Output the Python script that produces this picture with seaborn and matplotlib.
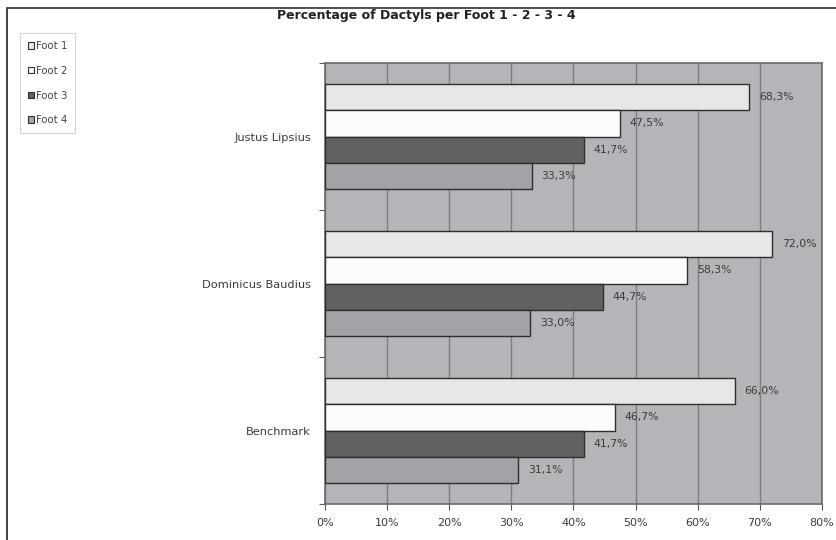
import matplotlib
matplotlib.use("Agg")
import matplotlib.pyplot as plt
from matplotlib.patches import Patch
from matplotlib.ticker import FixedLocator, MultipleLocator, FuncFormatter
import seaborn as sns
import pandas as pd

# Poets compared and the dactyl share of each foot (percent)
poets = ["Justus Lipsius", "Dominicus Baudius", "Benchmark"]
feet = ["Foot 1", "Foot 2", "Foot 3", "Foot 4"]
foot1 = [68.3, 72.0, 66.0]
foot2 = [47.5, 58.3, 46.7]
foot3 = [41.7, 44.7, 41.7]
foot4 = [33.3, 33.0, 31.1]

colors = ["#e7e7e9", "#fbfbfb", "#616161", "#a3a3a7"]

rows = []
for foot, vals in zip(feet, [foot1, foot2, foot3, foot4]):
    for poet, v in zip(poets, vals):
        rows.append({"poet": poet, "foot": foot, "value": v})
df = pd.DataFrame(rows)

sns.set_theme(style="white")
plt.rcParams["font.family"] = ["DejaVu Sans"]
text_color = "#3a3a3a"

fig = plt.figure(figsize=(8.37, 5.40), dpi=100)
fig.patch.set_facecolor("white")
ax = fig.add_axes([325 / 837, 1 - 504 / 540, (822 - 325) / 837, (504 - 63) / 540])
ax.set_facecolor("#b5b5b9")

sns.barplot(
    data=df, y="poet", x="value", hue="foot", order=poets, hue_order=feet,
    palette=colors, orient="h", width=0.71, edgecolor="#2e2e2e", linewidth=1.0,
    saturation=1, legend=False, ax=ax, zorder=3,
)

# value labels with decimal commas
for container in ax.containers:
    labels = [f"{b.get_width():.1f}".replace(".", ",") + "%" for b in container]
    ax.bar_label(container, labels=labels, padding=7, fontsize=7.8,
                 color=text_color)

ax.set_xlim(0, 80)
ax.set_ylim(2.5, -0.5)
ax.xaxis.set_major_locator(MultipleLocator(10))
ax.xaxis.set_major_formatter(FuncFormatter(lambda v, p: f"{v:.0f}%"))
ax.grid(axis="x", color="#7e7e82", linewidth=1.0, zorder=0)
ax.set_axisbelow(True)
ax.set_xlabel("")
ax.set_ylabel("")

ax.yaxis.set_minor_locator(FixedLocator([-0.5, 0.5, 1.5, 2.5]))
ax.tick_params(axis="y", which="major", length=0, pad=10, labelsize=8.2,
               labelcolor=text_color)
ax.tick_params(axis="y", which="minor", length=4, width=0.8, color="#555555",
               left=True)
ax.tick_params(axis="x", which="major", length=4, width=0.8, color="#555555",
               bottom=True, labelsize=8, labelcolor=text_color, pad=6)

for side, sp in ax.spines.items():
    sp.set_visible(True)
    sp.set_color("#6a6a6a")
    sp.set_linewidth(1.2)

fig.text(426 / 837, 1 - 15 / 540, "Percentage of Dactyls per Foot 1 - 2 - 3 - 4",
         ha="center", va="center", fontsize=9, fontweight="bold",
         color="#222222")

handles = [Patch(facecolor=c, edgecolor="#2e2e2e", linewidth=0.8) for c in colors]
leg = fig.legend(handles, feet, loc="upper left",
                 bbox_to_anchor=(20 / 837, 1 - 33 / 540), fontsize=7.3,
                 frameon=True, fancybox=False, handlelength=0.6,
                 handleheight=0.6, handletextpad=0.15, labelspacing=1.45,
                 borderpad=0.8, borderaxespad=0)
leg.get_frame().set_edgecolor("#c8c8c8")
leg.get_frame().set_linewidth(0.8)
for t in leg.get_texts():
    t.set_color("#444444")

# outer frame on the left and top edges
fig.add_artist(plt.Line2D([7 / 837, 7 / 837], [0, 1 - 8 / 540],
                          transform=fig.transFigure, color="#222222", lw=1.2))
fig.add_artist(plt.Line2D([7 / 837, 1], [1 - 8 / 540, 1 - 8 / 540],
                          transform=fig.transFigure, color="#333333", lw=1.2))

fig.savefig("out.png", dpi=100)
